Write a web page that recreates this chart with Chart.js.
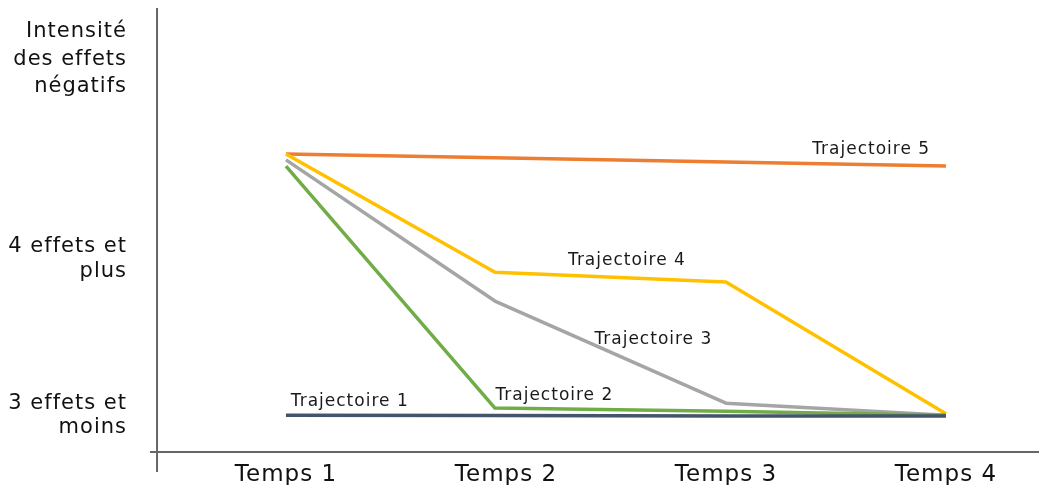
<!DOCTYPE html>
<html><head><meta charset="utf-8">
<script src="https://cdn.jsdelivr.net/npm/chart.js@4.4.0/dist/chart.umd.min.js"></script>
<style>html,body{margin:0;padding:0;background:#fff}#wrap{width:1039px;height:485px}</style>
</head><body><div id="wrap"><canvas id="c" width="1039" height="485"></canvas></div>
<script>
// ---- data ----
const timeLabels = ['Temps 1', 'Temps 2', 'Temps 3', 'Temps 4'];
const timeValues = [1, 1.95, 3, 4];
const seriesNames = ['Trajectoire 1', 'Trajectoire 2', 'Trajectoire 3', 'Trajectoire 4', 'Trajectoire 5'];
const traj1 = [8.3, 8.2, 8.1, 8.1];
const traj2 = [64.4, 9.9, 9.2, 8.3];
const traj3 = [65.8, 34.0, 11.0, 8.3];
const traj4 = [67.1, 40.5, 38.3, 8.6];
const traj5 = [67.1, 66.3, 65.3, 64.4];
const yTickValues = [8.2, 43.5, 88.5];
const yTickLabels = [['3 effets et', 'moins'], ['4 effets et', 'plus'], ['Intensité', 'des effets', 'négatifs']];
// label anchors (data units)
const labelX = [1.29, 2.22, 2.67, 2.55, 3.66];
const labelY = [11.3, 12.7, 25.3, 43.1, 68.1];

const colors = ['#44546A', '#70AD47', '#A5A5A5', '#FFC000', '#ED7D31'];
const allSeries = [traj1, traj2, traj3, traj4, traj5];

const datasets = allSeries.map((s, i) => ({
  label: seriesNames[i],
  data: s.map((v, j) => ({x: timeValues[j], y: v})),
  borderColor: colors[i],
  backgroundColor: colors[i],
  borderWidth: 3.5,
  pointRadius: 0,
  tension: 0,
  fill: false,
  borderJoinStyle: 'round'
}));

const FONT = 'DejaVu Sans';

const decor = {
  id: 'decor',
  beforeLayout(chart) { chart.ctx.letterSpacing = '1px'; },
  beforeDraw(chart) { chart.ctx.letterSpacing = '1px'; },
  beforeDatasetsDraw(chart) {
    const {ctx, chartArea, scales} = chart;
    const x0 = scales.x.getPixelForValue(0.414);
    const yb = scales.y.getPixelForValue(0);
    ctx.save();
    ctx.strokeStyle = '#666';
    ctx.lineWidth = 2;
    ctx.beginPath();
    ctx.moveTo(chartArea.left, yb);
    ctx.lineTo(chartArea.right, yb);
    ctx.moveTo(x0, chartArea.top);
    ctx.lineTo(x0, yb + 20);
    ctx.stroke();
    ctx.restore();
  },
  afterDatasetsDraw(chart) {
    const {ctx, scales} = chart;
    ctx.save();
    ctx.font = '17px "' + FONT + '"';
    ctx.fillStyle = '#1a1a1a';
    ctx.textAlign = 'center';
    ctx.textBaseline = 'middle';
    seriesNames.forEach((n, i) => {
      ctx.fillText(n, scales.x.getPixelForValue(labelX[i]), scales.y.getPixelForValue(labelY[i]));
    });
    ctx.restore();
  }
};

new Chart(document.getElementById('c'), {
  type: 'line',
  data: {datasets},
  plugins: [decor],
  options: {
    responsive: false,
    animation: false,
    devicePixelRatio: 1,
    layout: {padding: {top: 8, left: 0, right: 0, bottom: 0}},
    plugins: {legend: {display: false}, tooltip: {enabled: false}},
    scales: {
      x: {
        type: 'linear',
        min: 0.382,
        max: 4.423,
        grid: {display: false, drawTicks: false},
        border: {display: false},
        afterBuildTicks: s => { s.ticks = timeLabels.map((_, i) => ({value: i + 1})); },
        afterFit: s => { s.height = 33; s.paddingLeft = 0; s.paddingRight = 0; },
        ticks: {
          autoSkip: false, maxRotation: 0, padding: 9,
          color: '#111',
          font: {family: FONT, size: 23},
          callback: (v) => timeLabels[Math.round(v) - 1]
        }
      },
      y: {
        type: 'linear',
        min: 0,
        max: 100,
        grid: {display: false, drawTicks: false},
        border: {display: false},
        afterBuildTicks: s => { s.ticks = yTickValues.map(v => ({value: v})); },
        afterFit: s => { s.width = 150; s.paddingTop = 0; s.paddingBottom = 0; },
        ticks: {
          autoSkip: false, padding: 23,
          color: '#111',
          font: (ctx) => ({family: FONT, size: 21, lineHeight: ctx.index === 2 ? 1.33 : 1.18}),
          callback: (v, i) => yTickLabels[i]
        }
      }
    }
  }
});
</script></body></html>
